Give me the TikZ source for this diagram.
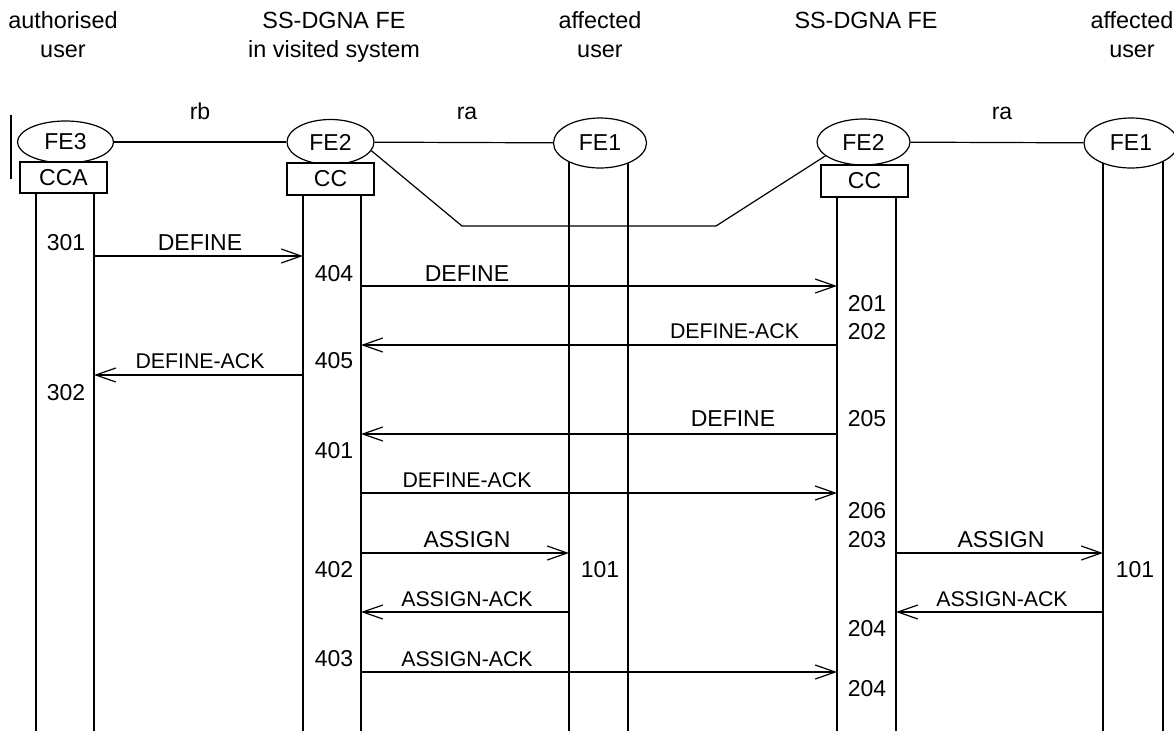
\documentclass[tikz,border=0pt]{standalone}
\usepackage{fontspec}
\setmainfont{Liberation Sans}
\usetikzlibrary{arrows.meta,shapes.geometric}
\begin{document}
\begin{tikzpicture}[x=1pt,y=-1pt,
  line width=1.2pt,
  fe/.style={ellipse,draw,fill=white,inner sep=0pt,font=\fontsize{23}{27}\selectfont},
  fbox/.style={rectangle,draw,fill=white,inner sep=0pt,minimum width=87pt,minimum height=31pt,font=\fontsize{23}{27}\selectfont},
  hdr/.style={anchor=base,font=\fontsize{23.4}{28}\selectfont,inner sep=0pt},
  lbl/.style={anchor=base,font=\fontsize{23}{27}\selectfont,inner sep=0pt},
  ack/.style={anchor=base,font=\fontsize{21.3}{26}\selectfont,inner sep=0pt},
  msg/.style={-{Straight Barb[length=20pt,width=14pt]}}
]
\useasboundingbox (0,0) rectangle (1174,731);

% headers
\node[hdr] (h1a) at (63,28) {authorised};
\node[hdr] (h1b) at (63,57) {user};
\node[hdr] (h2a) at (334,28) {SS-DGNA FE};
\node[hdr] (h2b) at (334,57) {in visited system};
\node[hdr] (h3a) at (600,28) {affected};
\node[hdr] (h3b) at (600,57) {user};
\node[hdr] (h4a) at (866,28) {SS-DGNA FE};
\node[hdr] (h5a) at (1132,28) {affected};
\node[hdr] (h5b) at (1132,57) {user};

% lifelines
\foreach \x/\n/\t in {36/a1/180,94/a2/180,303/b1/180,361/b2/180,569/c1/142,628/c2/142,837/d1/180,896/d2/180,1103/e1/142,1163/e2/142}{
  \coordinate (\n t) at (\x,\t);
  \coordinate (\n b) at (\x,731);
  \draw (\n t) -- (\n b);
}

% left bar
\coordinate (bar1) at (11,115);
\coordinate (bar2) at (11,179);
\draw (bar1) -- (bar2);

% entities
\node[fe,minimum width=96pt,minimum height=42pt] (fe3) at (65.5,142) {FE3};
\node[fe,minimum width=87pt,minimum height=45pt] (fe2a) at (330.5,142) {FE2};
\node[fe,minimum width=93pt,minimum height=50pt] (fe1a) at (600,143) {FE1};
\node[fe,minimum width=93pt,minimum height=46pt] (fe2b) at (863.5,142) {FE2};
\node[fe,minimum width=94pt,minimum height=50pt] (fe1b) at (1131,143) {FE1};

\node[fbox] (cca) at (63.5,177.5) {CCA};
\node[fbox,minimum height=32pt] (cc1) at (330.5,179) {CC};
\node[fbox,minimum height=32pt] (cc2) at (864.5,181) {CC};

% relations
\draw (fe3) -- (fe2a);
\draw (fe2a) -- (fe1a);
\draw (fe2b) -- (fe1b);
\coordinate (r1) at (462,226);
\coordinate (r2) at (716,226);
\draw (fe2a.-12) -- (r1) -- (r2) -- (fe2b.200);
\node[lbl] (rb) at (200,119) {rb};
\node[lbl] (ra1) at (467,119) {ra};
\node[lbl] (ra2) at (1002,119) {ra};

% messages
\coordinate (m1s) at (94,256);   \coordinate (m1e) at (303,256);
\coordinate (m2s) at (361,286);  \coordinate (m2e) at (837,286);
\coordinate (m3s) at (837,345);  \coordinate (m3e) at (361,345);
\coordinate (m4s) at (303,375);  \coordinate (m4e) at (94,375);
\coordinate (m5s) at (837,434);  \coordinate (m5e) at (361,434);
\coordinate (m6s) at (361,493);  \coordinate (m6e) at (837,493);
\coordinate (m7s) at (361,553);  \coordinate (m7e) at (569,553);
\coordinate (m8s) at (896,553);  \coordinate (m8e) at (1103,553);
\coordinate (m9s) at (569,612);  \coordinate (m9e) at (361,612);
\coordinate (m10s) at (1103,612); \coordinate (m10e) at (896,612);
\coordinate (m11s) at (361,672); \coordinate (m11e) at (837,672);
\foreach \i in {1,...,11}{\draw[msg] (m\i s) -- (m\i e);}

\node[lbl] (t1) at (200,250) {DEFINE};
\node[lbl] (t2) at (467,281) {DEFINE};
\node[ack] (t3) at (734.5,338) {DEFINE-ACK};
\node[ack] (t4) at (200,368) {DEFINE-ACK};
\node[lbl] (t5) at (733,426) {DEFINE};
\node[ack] (t6) at (467,487) {DEFINE-ACK};
\node[lbl] (t7) at (467,547) {ASSIGN};
\node[lbl] (t8) at (1001,547) {ASSIGN};
\node[ack] (t9) at (467,606) {ASSIGN-ACK};
\node[ack] (t10) at (1002,606) {ASSIGN-ACK};
\node[ack] (t11) at (467,666) {ASSIGN-ACK};

% step numbers
\node[lbl] (n301) at (66,250) {301};
\node[lbl] (n302) at (66,400) {302};
\node[lbl] (n404) at (334,281) {404};
\node[lbl] (n405) at (334,368) {405};
\node[lbl] (n401) at (334,458) {401};
\node[lbl] (n402) at (334,577) {402};
\node[lbl] (n403) at (334,666) {403};
\node[lbl] (n201) at (867,311) {201};
\node[lbl] (n202) at (867,339) {202};
\node[lbl] (n205) at (867,426) {205};
\node[lbl] (n206) at (867,518) {206};
\node[lbl] (n203) at (867,547) {203};
\node[lbl] (n204a) at (867,636) {204};
\node[lbl] (n204b) at (867,696) {204};
\node[lbl] (n101a) at (600,577) {101};
\node[lbl] (n101b) at (1135,577) {101};
\end{tikzpicture}
\end{document}
